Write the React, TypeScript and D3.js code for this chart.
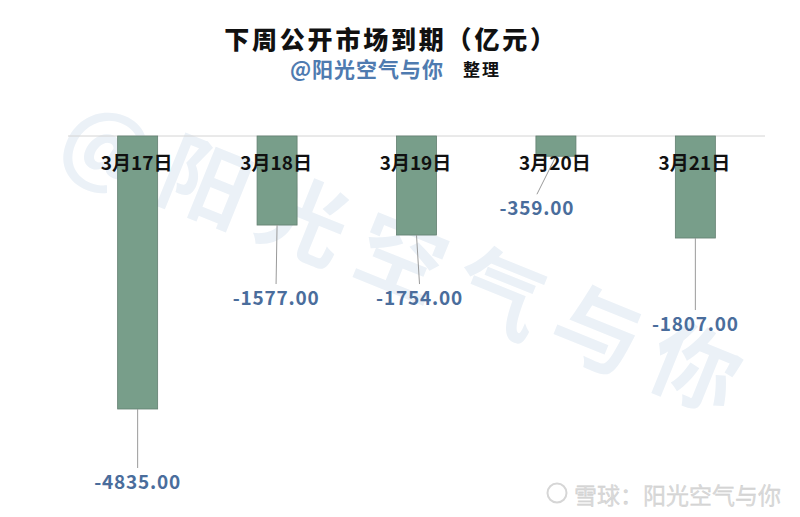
import React from "react";
import * as d3 from "d3";

const categories = ["3月17日", "3月18日", "3月19日", "3月20日", "3月21日"];
const values = [-4835, -1577, -1754, -359, -1807];
// label offsets (dx, dy from bar end) for the leader-line labels
const labelDx = [0, -1, 3, -19, 0];
const labelDy = [71, 71, 61, 50, 84];

const W = 800;
const H = 517;

export default function App() {
  const x = d3.scaleBand<string>().domain(categories).range([68, 765]).paddingInner(0.713).paddingOuter(0.356);
  const y = d3.scaleLinear().domain([-4835, 0]).range([409, 136]);
  const fmt = (v: number) => d3.format(".2f")(v).replace("\u2212", "-");
  const cjk = "'Noto Sans CJK SC', 'Noto Sans', sans-serif";
  const wm = "@阳光空气与你".split("");
  return (
    <div style={{ position: "absolute", left: 0, top: 0, width: W, height: H, background: "#fff" }}>
      <svg width={W} height={H} style={{ display: "block" }}>
        <rect width={W} height={H} fill="#fff" />
        {/* diagonal watermark */}
        <g fill="#ebf1f7" fontFamily={cjk} fontWeight={700} fontSize={88}>
          {wm.map((c, i) => (
            <text key={i} x={0} y={0} textAnchor="middle" dominantBaseline="central"
              transform={`translate(${110 + i * 98},${140 + i * 37}) rotate(22)`}>{c}</text>
          ))}
        </g>
        {/* title */}
        <text x={391} y={38} textAnchor="middle" dominantBaseline="central" fontFamily={cjk} fontWeight={900}
          fontSize={25} letterSpacing={2.8} fill="#111">下周公开市场到期（亿元）</text>
        <text x={367} y={68} textAnchor="middle" dominantBaseline="central" fontFamily={cjk} fontWeight={700}
          fontSize={21} letterSpacing={1} fill="#4f7bb0">@阳光空气与你</text>
        <text x={482} y={68} textAnchor="middle" dominantBaseline="central" fontFamily={cjk} fontWeight={700}
          fontSize={17} letterSpacing={2} fill="#111">整理</text>
        {/* baseline */}
        <line x1={68} x2={765} y1={y(0)} y2={y(0)} stroke="#d4d4d4" strokeWidth={1} />
        {/* bars */}
        {values.map((v, i) => {
          const bx = x(categories[i])!;
          return (
            <rect key={i} x={bx} y={y(0)} width={x.bandwidth()} height={y(v) - y(0)}
              fill="#789e8a" stroke="#627f70" strokeWidth={0.8} />
          );
        })}
        {/* leader lines and value labels */}
        {values.map((v, i) => {
          const cx = x(categories[i])! + x.bandwidth() / 2;
          const ey = y(v);
          const lx = cx + labelDx[i];
          const ly = ey + labelDy[i];
          return (
            <g key={i}>
              <line x1={cx} y1={ey} x2={lx} y2={ly - 12} stroke="#9a9a9a" strokeWidth={1} />
              <text x={lx} y={ly} textAnchor="middle" dominantBaseline="central" fontFamily={cjk}
                fontWeight={700} fontSize={19} letterSpacing={0.8} fill="#4a6d9c">{fmt(v)}</text>
            </g>
          );
        })}
        {/* category labels */}
        {categories.map((c, i) => (
          <text key={i} x={x(c)! + x.bandwidth() / 2 - 1} y={161} textAnchor="middle" dominantBaseline="central"
            fontFamily={cjk} fontWeight={700} fontSize={19} fill="#111">{c}</text>
        ))}
        {/* bottom-right watermark */}
        <g>
          <circle cx={557} cy={493} r={9.5} fill="none" stroke="#d6d6d6" strokeWidth={2} />
          <text x={574} y={494} dominantBaseline="central" fontFamily={cjk} fontSize={23} fill="#dadada"
            stroke="#c8c8c8" strokeWidth={0.3}>雪球：阳光空气与你</text>
        </g>
      </svg>
    </div>
  );
}
